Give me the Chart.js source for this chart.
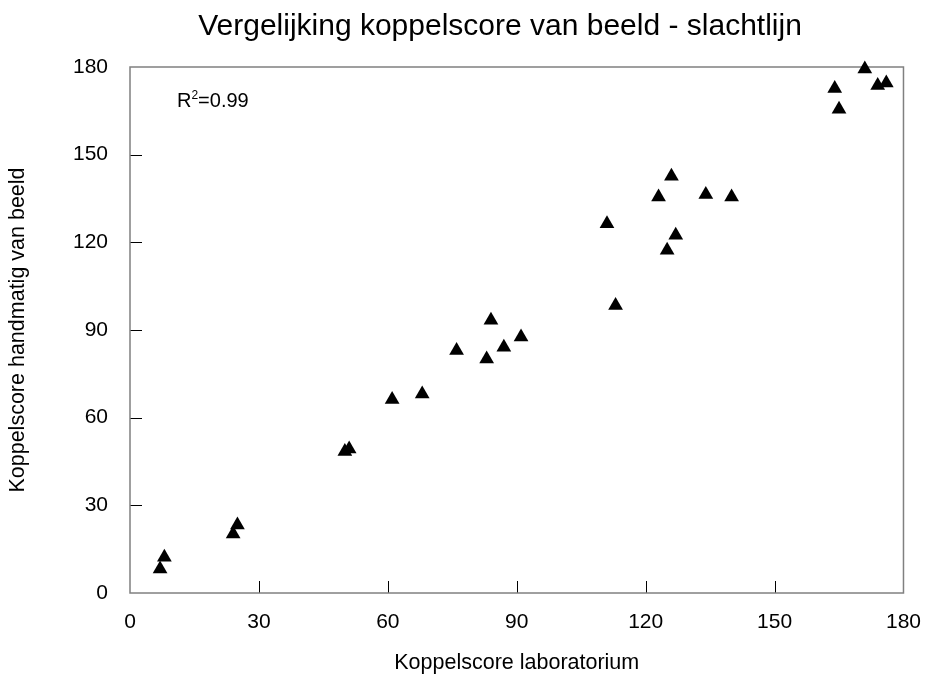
<!DOCTYPE html>
<html>
<head>
<meta charset="utf-8">
<script src="https://cdn.jsdelivr.net/npm/chart.js@4.4.1/dist/chart.umd.min.js"></script>
<style>
  html, body { margin: 0; padding: 0; background: #fff; overflow: hidden; }
  #wrap { width: 938px; height: 676px; }
</style>
</head>
<body>
<div id="wrap"><canvas id="scoreChart"></canvas></div>
<script>
const chartTitle = "Vergelijking koppelscore van beeld - slachtlijn";
const xTitle = "Koppelscore laboratorium";
const yTitle = "Koppelscore handmatig van beeld";
const rSquared = "0.99";

// lab score (x) vs manual score from image (y)
const labScores = [171, 174, 176, 164, 165, 126, 123, 134, 140, 111, 127, 125, 113, 84, 91, 76, 83, 87, 61, 68, 50, 51, 24, 25, 7, 8];
const imageScores = [179.3, 173.7, 174.5, 172.6, 165.5, 142.6, 135.5, 136.4, 135.5, 126.4, 122.4, 117.3, 98.4, 93.3, 87.6, 83, 80.1, 84.1, 66.2, 68.1, 48.4, 49.3, 20.2, 23.3, 8.2, 12.2];
const tickValues = [0, 30, 60, 90, 120, 150, 180];

const points = labScores.map((x, i) => ({ x: x, y: imageScores[i] }));

const fontFamily = "'Liberation Sans', Arial, sans-serif";

// frame, inner tick marks, title and R2 label
const decorations = {
  id: 'decorations',
  beforeDatasetsDraw(chart) {
    const ctx = chart.ctx;
    const area = chart.chartArea;
    const xs = chart.scales.x;
    const ys = chart.scales.y;
    ctx.save();
    ctx.strokeStyle = '#000';
    ctx.lineWidth = 1;
    tickValues.forEach(v => {
      if (v === 0 || v === 180) return;
      const px = Math.round(xs.getPixelForValue(v)) + 0.5;
      ctx.beginPath();
      ctx.moveTo(px, area.bottom);
      ctx.lineTo(px, area.bottom - 12);
      ctx.stroke();
      const py = Math.round(ys.getPixelForValue(v)) + 0.5;
      ctx.beginPath();
      ctx.moveTo(area.left, py);
      ctx.lineTo(area.left + 12, py);
      ctx.stroke();
    });
    ctx.strokeStyle = '#808080';
    ctx.lineWidth = 1.5;
    ctx.strokeRect(area.left, area.top, area.right - area.left, area.bottom - area.top);

    // R2 label
    ctx.fillStyle = '#000';
    ctx.textBaseline = 'alphabetic';
    ctx.textAlign = 'left';
    let tx = area.left + 47;
    const ty = area.top + 40;
    ctx.font = '20px ' + fontFamily;
    ctx.fillText('R', tx, ty);
    tx += ctx.measureText('R').width;
    ctx.font = '12px ' + fontFamily;
    ctx.fillText('2', tx, ty - 8);
    tx += ctx.measureText('2').width;
    ctx.font = '20px ' + fontFamily;
    ctx.fillText('=' + rSquared, tx, ty);

    // title
    ctx.font = '30px ' + fontFamily;
    ctx.textAlign = 'center';
    ctx.fillText(chartTitle, 500, 35);
    ctx.restore();
  }
};

const ctx = document.getElementById('scoreChart').getContext('2d');
const scoreChart = new Chart(ctx, {
  type: 'scatter',
  data: {
    datasets: [{
      data: points,
      pointStyle: 'triangle',
      pointRadius: 8.5,
      pointHoverRadius: 8.5,
      backgroundColor: '#000',
      borderColor: '#000',
      borderWidth: 0,
      clip: false
    }]
  },
  options: {
    responsive: true,
    maintainAspectRatio: false,
    animation: false,
    layout: { padding: { top: 67, right: 21, left: 0, bottom: 0 } },
    plugins: {
      legend: { display: false },
      tooltip: { enabled: false }
    },
    scales: {
      x: {
        type: 'linear',
        min: 0,
        max: 180,
        afterFit(scale) { scale.height = 83; },
        afterBuildTicks(scale) { scale.ticks = tickValues.map(v => ({ value: v })); },
        grid: { display: false, drawTicks: false },
        border: { display: false },
        ticks: { color: '#000', font: { family: fontFamily, size: 21 }, padding: 17, maxRotation: 0 },
        title: { display: true, text: xTitle, color: '#000', font: { family: fontFamily, size: 21.5 }, padding: { top: 0, bottom: 0 } }
      },
      y: {
        type: 'linear',
        min: 0,
        max: 180,
        afterFit(scale) { scale.width = 130; },
        afterBuildTicks(scale) { scale.ticks = tickValues.map(v => ({ value: v })); },
        grid: { display: false, drawTicks: false },
        border: { display: false },
        ticks: { color: '#000', font: { family: fontFamily, size: 21 }, padding: 22 },
        title: { display: true, text: yTitle, color: '#000', font: { family: fontFamily, size: 21.5 }, padding: { top: 5, bottom: 0 } }
      }
    }
  },
  plugins: [decorations]
});
</script>
</body>
</html>
